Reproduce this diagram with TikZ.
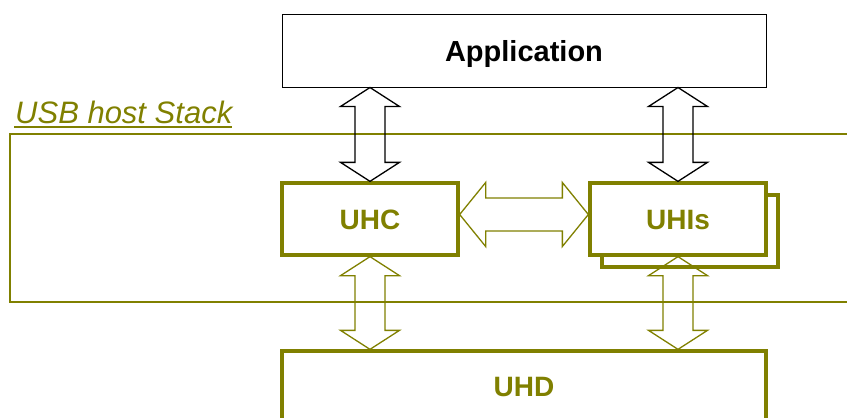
\documentclass[tikz,border=0pt]{standalone}
\usepackage{fontspec}
\setmainfont{Liberation Sans}
\usetikzlibrary{calc,shadows}
\definecolor{olivec}{RGB}{128,128,0}
\newcommand\vblockarrow[3]{%
  \draw[#3, line width=1.3pt, line join=miter]
    (#1) -- ($(#1)+(29.5,19)$) -- ($(#1)+(15,19)$) -- ($(#2)+(15,-19)$) -- ($(#2)+(29.5,-19)$)
    -- (#2) -- ($(#2)+(-29.5,-19)$) -- ($(#2)+(-15,-19)$) -- ($(#1)+(-15,19)$) -- ($(#1)+(-29.5,19)$) -- cycle;}
\newcommand\hblockarrow[3]{%
  \draw[#3, line width=1.3pt, line join=miter]
    (#1) -- ($(#1)+(26,-32)$) -- ($(#1)+(26,-16.5)$) -- ($(#2)+(-26,-16.5)$) -- ($(#2)+(-26,-32)$)
    -- (#2) -- ($(#2)+(-26,32)$) -- ($(#2)+(-26,16.5)$) -- ($(#1)+(26,16.5)$) -- ($(#1)+(26,32)$) -- cycle;}
\begin{document}
\begin{tikzpicture}[x=1pt,y=-1pt,
  box/.style={draw=olivec, line width=3.3pt, fill=white, inner sep=0pt, text=olivec,
    font=\fontsize{28}{30}\selectfont\bfseries, text height=20pt, text depth=0pt}]
\clip (0,0) rectangle (847,418);
\node[draw=olivec, line width=2pt, minimum width=860pt, minimum height=168pt, inner sep=0pt] (stack) at (440,218) {};
\node[anchor=base west, inner sep=0pt, text=olivec, font=\fontsize{31}{36}\selectfont\itshape] (title) at (15,123) {USB host Stack};
\draw[olivec, line width=2pt] ($(title.base west)+(-1,4)$) -- ($(title.base east)+(0,4)$);
\node[draw=black, line width=1pt, fill=white, minimum width=484pt, minimum height=73pt, inner sep=0pt,
  font=\fontsize{29}{32}\selectfont\bfseries, text height=21pt, text depth=0pt] (app) at (524,50.5) {Application};
\node[box, minimum width=484pt, minimum height=70pt] (uhd) at (524,386) {UHD};
\node[box, minimum width=176pt, minimum height=72pt] (uhc) at (370,219) {UHC};
\node[box, minimum width=176pt, minimum height=72pt,
  copy shadow={shadow xshift=12pt, shadow yshift=-12pt, draw=olivec, line width=3.3pt, fill=white}] (uhis) at (678,219) {UHIs};
\coordinate (a1) at (app.south -| uhc.north);
\coordinate (a2) at (app.south -| uhis.north);
\coordinate (d1) at (uhd.north -| uhc.south);
\coordinate (d2) at (uhd.north -| uhis.south);
\coordinate (h1) at ($(uhc.east)+(0,-4.5)$);
\coordinate (h2) at ($(uhis.west)+(0,-4.5)$);
\vblockarrow{a1}{uhc.north}{black}
\vblockarrow{a2}{uhis.north}{black}
\vblockarrow{uhc.south}{d1}{olivec}
\vblockarrow{uhis.south}{d2}{olivec}
\hblockarrow{h1}{h2}{olivec}
\end{tikzpicture}
\end{document}
